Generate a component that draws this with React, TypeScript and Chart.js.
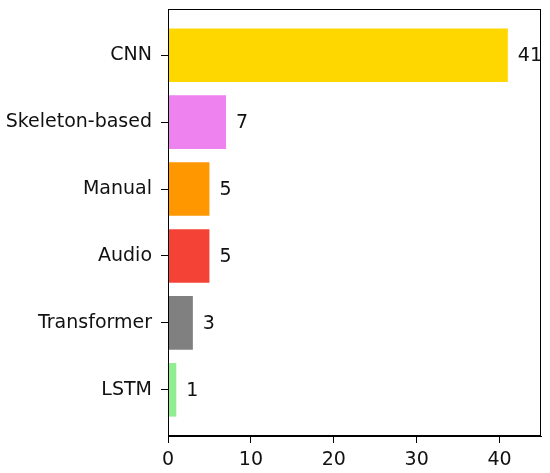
import React, { useEffect, useRef } from "react";
import { Chart, registerables } from "chart.js";

Chart.register(...registerables);

const categories = ["CNN", "Skeleton-based", "Manual", "Audio", "Transformer", "LSTM"];
const counts = [41, 7, 5, 5, 3, 1];
const barColors = ["#FFD700", "#EE82EE", "#FF9800", "#F44336", "#808080", "#90EE90"];
const xTicks = [0, 10, 20, 30, 40];

const FONT = "'DejaVu Sans', sans-serif";
const FS = 19;

const boxPlugin = {
  id: "box",
  afterDraw(chart: any) {
    const { ctx, chartArea } = chart;
    ctx.save();
    ctx.strokeStyle = "#000";
    ctx.lineWidth = 1;
    ctx.strokeRect(chartArea.left + 0.5, chartArea.top + 0.5, chartArea.right - chartArea.left - 1, chartArea.bottom - chartArea.top - 1);
    ctx.restore();
  },
};

const valueLabelPlugin = {
  id: "valueLabels",
  afterDatasetsDraw(chart: any) {
    const { ctx } = chart;
    const meta = chart.getDatasetMeta(0);
    ctx.save();
    ctx.fillStyle = "#111";
    ctx.font = `${FS}px ${FONT}`;
    ctx.textAlign = "left";
    ctx.textBaseline = "middle";
    meta.data.forEach((el: any, i: number) => {
      ctx.fillText(String(counts[i]), el.x + 10, el.y + 1);
    });
    ctx.restore();
  },
};

export default function App() {
  const ref = useRef<HTMLCanvasElement>(null);
  useEffect(() => {
    if (!ref.current) return;
    const chart = new Chart(ref.current, {
      type: "bar",
      data: {
        datasets: [
          {
            data: counts.map((v, i) => ({ x: v, y: i })),
            backgroundColor: barColors,
            borderWidth: 0,
            barPercentage: 0.8,
            categoryPercentage: 1,
          },
        ],
      },
      options: {
        indexAxis: "y",
        animation: false,
        responsive: false,
        maintainAspectRatio: false,
        layout: { padding: { top: 9, right: 9, left: 0, bottom: 0 } },
        plugins: { legend: { display: false }, tooltip: { enabled: false } },
        scales: {
          x: {
            type: "linear",
            min: 0,
            max: 45,
            offset: false,
            afterBuildTicks: (scale: any) => {
              scale.ticks = xTicks.map((v) => ({ value: v }));
            },
            afterFit: (scale: any) => {
              scale.height = 37;
              scale.paddingLeft = 0;
              scale.paddingRight = 0;
            },
            grid: { offset: false, drawOnChartArea: false, drawTicks: true, tickLength: 7, color: "#000" },
            border: { display: true, color: "#000", width: 1 },
            ticks: { color: "#111", font: { family: FONT, size: FS }, padding: 6, maxRotation: 0 },
          },
          y: {
            type: "linear",
            min: -0.69,
            max: 5.69,
            reverse: true,
            offset: false,
            afterBuildTicks: (scale: any) => {
              scale.ticks = categories.map((_, i) => ({ value: i }));
            },
            afterFit: (scale: any) => {
              scale.width = 168;
              scale.paddingTop = 0;
              scale.paddingBottom = 0;
            },
            grid: { offset: false, drawOnChartArea: false, drawTicks: true, tickLength: 7, color: "#000" },
            border: { display: true, color: "#000", width: 1 },
            ticks: {
              color: "#111",
              font: { family: FONT, size: FS },
              padding: 9,
              callback: (v: any) => categories[v as number] ?? "",
            },
          },
        },
      },
      plugins: [boxPlugin, valueLabelPlugin],
    } as any);
    return () => chart.destroy();
  }, []);
  return (
    <div style={{ position: "fixed", left: 0, top: 0, width: 550, height: 473, background: "#fff" }}>
      <canvas ref={ref} width={550} height={473} style={{ width: 550, height: 473 }} />
    </div>
  );
}
